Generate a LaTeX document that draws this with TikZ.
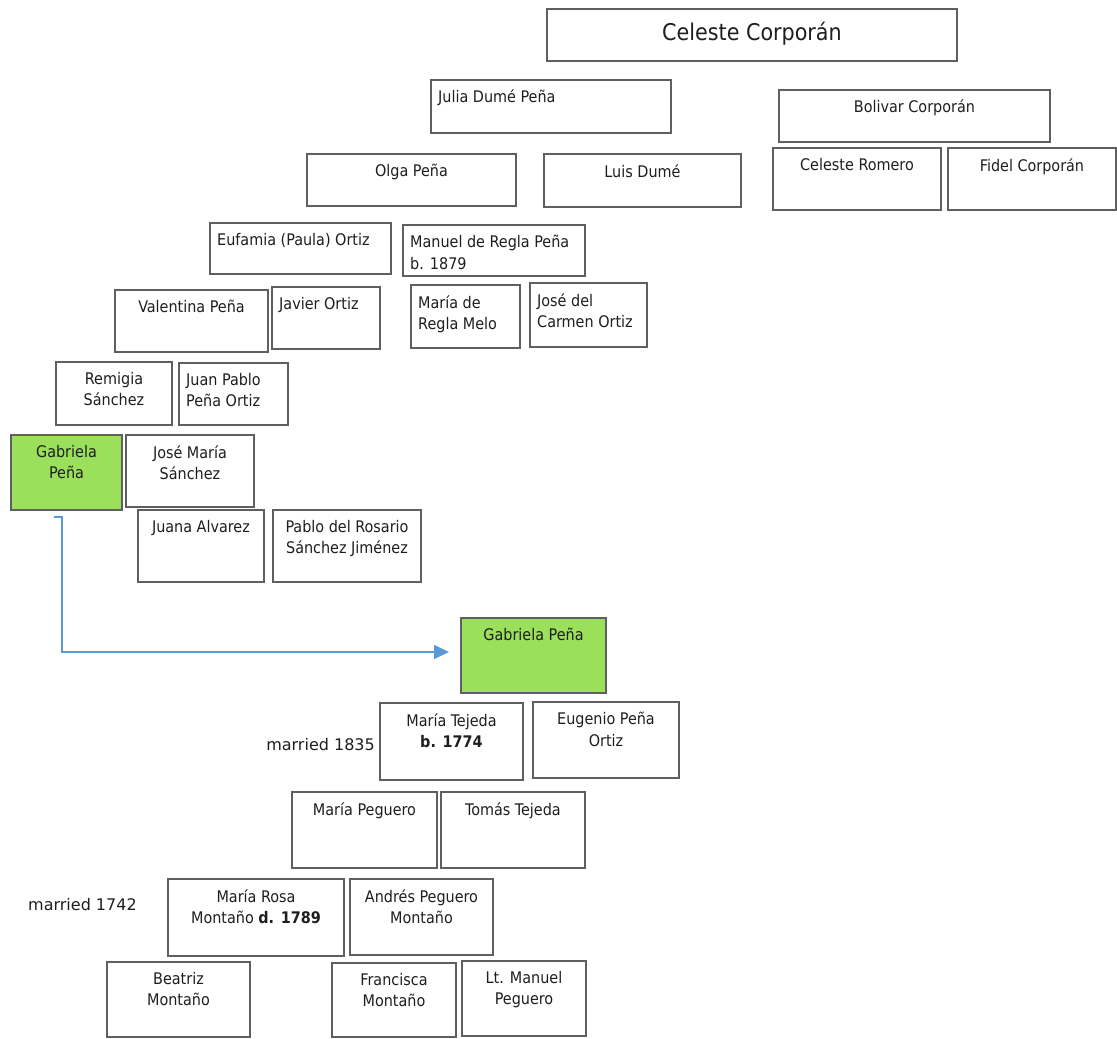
\documentclass[tikz,border=0pt]{standalone}
\usepackage{fontspec}
\setmainfont{DejaVu Sans Condensed}
\newfontfamily\notefont{DejaVu Sans}
\usetikzlibrary{arrows.meta}
\definecolor{boxline}{RGB}{95,95,95}
\definecolor{leaf}{RGB}{155,224,90}
\definecolor{link}{RGB}{91,155,213}
\definecolor{ink}{RGB}{30,30,30}
\tikzset{
  pbox/.style={draw=boxline, line width=1.6pt, rectangle, inner sep=0pt, outer sep=0pt},
  ptext/.style={inner sep=0pt, text=ink, font=\fontsize{16}{21.5}\selectfont},
  note/.style={inner sep=0pt, text=ink, font=\notefont\fontsize{16}{21.5}\selectfont},
  hl/.style={fill=leaf},
  linkarrow/.style={draw=link, line width=1.8pt, -{Triangle[length=15pt,width=14pt]}},
}
% box drawn from its corners, text centred near the top
\newcommand\pc[7][]{%
  \node[pbox, #1, minimum width={(#5-#3)*1pt}, minimum height={(#6-#4)*1pt}]
    (#2) at ({(#3+#5)/2},{(#4+#6)/2}) {};
  \node[ptext, anchor=north, align=center] (#2t) at ([yshift=-10pt]#2.north) {\rule{0pt}{12pt}#7};
}
% box drawn from its corners, text set flush left near the top
\newcommand\pl[7][]{%
  \node[pbox, #1, minimum width={(#5-#3)*1pt}, minimum height={(#6-#4)*1pt}]
    (#2) at ({(#3+#5)/2},{(#4+#6)/2}) {};
  \node[ptext, anchor=north west, align=left] (#2t) at ([xshift=7pt,yshift=-10pt]#2.north west) {\rule{0pt}{12pt}#7};
}
\begin{document}
\begin{tikzpicture}[x=1pt, y=-1pt]
\useasboundingbox (0,0) rectangle (1117,1039);

% root
\node[pbox, minimum width=410pt, minimum height=52pt] (celeste) at (752,35) {};
\node[ptext, font=\fontsize{23}{26}\selectfont] (celestet) at ([yshift=1pt]celeste.center) {Celeste Corporán};

% upper tree
\pl{julia}{431}{80}{671}{133}{Julia Dumé Peña}
\pc{bolivar}{779}{90}{1050}{142}{Bolivar Corporán}
\pc{olga}{307}{154}{516}{206}{Olga Peña}
\pc{luis}{544}{154}{741}{207}{Luis Dumé}
\pc{cromero}{773}{148}{941}{210}{Celeste Romero}
\pc{fidel}{948}{148}{1116}{210}{Fidel Corporán}
\pl{eufamia}{210}{223}{391}{274}{Eufamia (Paula) Ortiz}
\pl{manuel}{403}{225}{585}{276}{Manuel de Regla Peña\\b. 1879}
\pc{valentina}{115}{290}{268}{352}{Valentina Peña}
\pl{javier}{272}{287}{380}{349}{Javier Ortiz}
\pl{mregla}{411}{285}{520}{348}{María de\\Regla Melo}
\pl{jcarmen}{530}{283}{647}{347}{José del\\Carmen Ortiz}
\pc{remigia}{56}{362}{172}{425}{Remigia\\Sánchez}
\pl{jpablo}{179}{363}{288}{425}{Juan Pablo\\Peña Ortiz}
\pc[hl]{gabA}{11}{435}{122}{510}{Gabriela\\Peña}
\pc{jmaria}{126}{435}{254}{507}{José María\\Sánchez}
\pc{juana}{138}{510}{264}{582}{Juana Alvarez}
\pc{pablo}{273}{510}{421}{582}{Pablo del Rosario\\Sánchez Jiménez}

% lower tree
\pc[hl]{gabB}{461}{618}{606}{693}{Gabriela Peña}
\pc{mtejeda}{380}{703}{523}{780}{María Tejeda\\\textbf{b. 1774}}
\pc{eugenio}{533}{702}{679}{778}{Eugenio Peña\\Ortiz}
\pc{mpeguero}{292}{792}{437}{868}{María Peguero}
\pc{tomas}{441}{792}{585}{868}{Tomás Tejeda}
\pc{mrosa}{168}{879}{344}{956}{María Rosa\\Montaño \textbf{d. 1789}}
\pc{andres}{350}{879}{493}{955}{Andrés Peguero\\Montaño}
\pc{beatriz}{107}{962}{250}{1037}{Beatriz\\Montaño}
\pc{francisca}{332}{963}{456}{1037}{Francisca\\Montaño}
\pc{ltmanuel}{462}{961}{586}{1036}{Lt. Manuel\\Peguero}

% marriage notes
\node[note, anchor=east] (m1835) at (375,745) {married 1835};
\node[note, anchor=west] (m1742) at (28,905) {married 1742};

% link between the two occurrences of Gabriela Peña
\coordinate (linkstart) at (54,517);
\coordinate (linkbend) at (62,517);
\coordinate (linkend) at (449,652);
\draw[linkarrow] (linkstart) -- (linkbend) |- (linkend);
\end{tikzpicture}
\end{document}
